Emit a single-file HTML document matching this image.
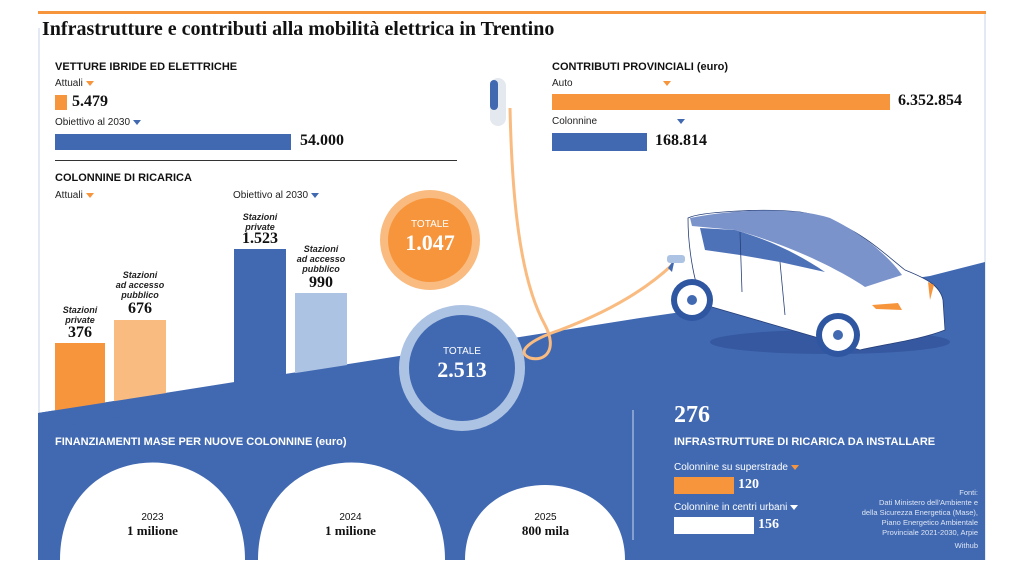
<!DOCTYPE html>
<html><head><meta charset="utf-8"><style>
body{margin:0;width:1024px;height:587px;background:#fff;overflow:hidden;position:relative;font-family:"Liberation Sans",sans-serif;}
.a{position:absolute;white-space:nowrap;}
.h{font-weight:bold;font-size:11px;color:#111;}
.s{font-size:10px;color:#222;}
.n{font-family:"Liberation Serif",serif;font-weight:bold;font-size:16px;color:#111;}
.tri{display:inline-block;width:0;height:0;border-left:4px solid transparent;border-right:4px solid transparent;margin-left:3px;vertical-align:middle}
.to{border-top:5px solid #f7953d}.tb{border-top:5px solid #4169b2}.tw{border-top:5px solid #fff}
.it{font-style:italic;font-weight:bold;font-size:9px;text-align:center;line-height:10px;color:#222}
</style></head><body>
<svg class="a" style="left:0;top:0" width="1024" height="587">
<rect x="38" y="11" width="948" height="3" fill="#f7953d"/>
<line x1="39" y1="28" x2="39" y2="560" stroke="#c9d5ea" stroke-width="1"/>
<line x1="985" y1="14" x2="985" y2="560" stroke="#c9d5ea" stroke-width="1"/>
<polygon points="38,413 640,318 930,276 985,262 985,560 38,560" fill="#4169b2"/>
<rect x="55" y="343" width="50" height="70" fill="#f7953d"/>
<rect x="114" y="320" width="52" height="84" fill="#f9bb80"/>
<rect x="234" y="249" width="52" height="135" fill="#4169b2"/>
<rect x="295" y="293" width="52" height="83" fill="#adc3e3"/>
<polygon points="38,413 360,363 360,380 38,430" fill="#4169b2"/>
<circle cx="430" cy="240" r="50" fill="#f9bb80"/><circle cx="430" cy="240" r="42" fill="#f7953d"/>
<circle cx="462" cy="368" r="63" fill="#adc3e3"/><circle cx="462" cy="368" r="53" fill="#4169b2"/>
<path d="M510,108 C512,200 520,280 545,325 C558,350 545,362 530,358 C515,352 530,340 560,330 C600,315 640,295 672,265" fill="none" stroke="#f9bb80" stroke-width="3"/>
<rect x="490" y="78" width="16" height="48" rx="8" fill="#e4e8ef"/>
<rect x="490" y="80" width="8" height="30" rx="4" fill="#4169b2"/>
<!-- car -->
<ellipse cx="830" cy="342" rx="120" ry="12" fill="#3558a0"/>
<path d="M675,258 L668,268 L672,272Z" fill="#4169b2"/>
<rect x="667" y="255" width="18" height="8" rx="3" fill="#adc3e3"/>
<path d="M688,218 C700,212 760,208 800,212 C850,220 880,250 905,270 C925,278 940,285 943,300 L945,330 C920,340 880,345 860,350 L705,305 C695,290 688,250 688,218Z" fill="#fff" stroke="#27407a" stroke-width="0.8"/>
<path d="M690,218 C740,208 800,208 830,218 C865,235 890,258 902,275 L865,287 C840,270 790,245 735,230 L692,226Z" fill="#7b93cb"/>
<path d="M700,228 L735,230 C770,240 800,255 825,272 L780,262 L740,255 L705,250Z" fill="#4e72b8"/>
<path d="M740,232 L742,292 M780,262 L785,315" stroke="#27407a" stroke-width="0.8"/>
<circle cx="692" cy="300" r="21" fill="#2f56a0"/><circle cx="692" cy="300" r="15" fill="#fff"/><circle cx="692" cy="300" r="5" fill="#4169b2"/>
<circle cx="838" cy="335" r="22" fill="#2f56a0"/><circle cx="838" cy="335" r="16" fill="#fff"/><circle cx="838" cy="335" r="5" fill="#4169b2"/>
<path d="M872,305 L898,303 L902,310 L876,309Z" fill="#f7953d"/>
<path d="M928,282 L934,285 L930,300Z" fill="#f7953d"/>
<path d="M60,560 C60,430 245,430 245,560Z" fill="#fff"/>
<path d="M258,560 C258,430 445,430 445,560Z" fill="#fff"/>
<path d="M465,560 C465,460 625,460 625,560Z" fill="#fff"/>
<line x1="633" y1="410" x2="633" y2="540" stroke="#c9d5ea" stroke-width="1"/>
<rect x="674" y="477" width="60" height="17" fill="#f7953d"/>
<rect x="674" y="517" width="80" height="17" fill="#fff"/>
</svg>
<div class="a" style="left:42px;top:18px;font-family:'Liberation Serif',serif;font-weight:bold;font-size:20px;color:#111">Infrastrutture e contributi alla mobilità elettrica in Trentino</div>
<div class="a h" style="left:55px;top:61px">VETTURE IBRIDE ED ELETTRICHE</div>
<div class="a s" style="left:55px;top:78px">Attuali<span class="tri to"></span></div>
<div class="a" style="left:55px;top:95px;width:12px;height:15px;background:#f7953d"></div>
<div class="a n" style="left:72px;top:93px">5.479</div>
<div class="a s" style="left:55px;top:117px">Obiettivo al 2030<span class="tri tb"></span></div>
<div class="a" style="left:55px;top:134px;width:236px;height:16px;background:#4169b2"></div>
<div class="a n" style="left:300px;top:132px">54.000</div>
<div class="a" style="left:55px;top:160px;width:402px;height:1px;background:#333"></div>
<div class="a h" style="left:55px;top:172px">COLONNINE DI RICARICA</div>
<div class="a s" style="left:55px;top:190px">Attuali<span class="tri to"></span></div>
<div class="a s" style="left:233px;top:190px">Obiettivo al 2030<span class="tri tb"></span></div>
<div class="a it" style="left:50px;top:305px;width:60px">Stazioni<br>private</div>
<div class="a n" style="left:50px;top:324px;width:60px;text-align:center">376</div>
<div class="a it" style="left:105px;top:270px;width:70px">Stazioni<br>ad accesso<br>pubblico</div>
<div class="a n" style="left:105px;top:300px;width:70px;text-align:center">676</div>
<div class="a it" style="left:230px;top:212px;width:60px">Stazioni<br>private</div>
<div class="a n" style="left:225px;top:230px;width:70px;text-align:center">1.523</div>
<div class="a it" style="left:286px;top:244px;width:70px">Stazioni<br>ad accesso<br>pubblico</div>
<div class="a n" style="left:286px;top:274px;width:70px;text-align:center">990</div>
<div class="a" style="left:390px;top:219px;width:80px;text-align:center;color:#fff;font-size:10px">TOTALE</div>
<div class="a n" style="left:390px;top:230px;width:80px;text-align:center;color:#fff;font-size:22px">1.047</div>
<div class="a" style="left:422px;top:346px;width:80px;text-align:center;color:#fff;font-size:10px">TOTALE</div>
<div class="a n" style="left:422px;top:357px;width:80px;text-align:center;color:#fff;font-size:22px">2.513</div>
<div class="a h" style="left:552px;top:61px">CONTRIBUTI PROVINCIALI (euro)</div>
<div class="a s" style="left:552px;top:78px">Auto<span class="tri to" style="margin-left:90px"></span></div>
<div class="a" style="left:552px;top:94px;width:338px;height:16px;background:#f7953d"></div>
<div class="a n" style="left:898px;top:92px">6.352.854</div>
<div class="a s" style="left:552px;top:116px">Colonnine<span class="tri tb" style="margin-left:80px"></span></div>
<div class="a" style="left:552px;top:133px;width:95px;height:18px;background:#4169b2"></div>
<div class="a n" style="left:655px;top:132px">168.814</div>
<div class="a h" style="left:55px;top:436px;color:#fff">FINANZIAMENTI MASE PER NUOVE COLONNINE (euro)</div>
<div class="a" style="left:100px;top:512px;width:105px;text-align:center;font-size:10px;color:#111">2023</div>
<div class="a n" style="left:100px;top:523px;width:105px;text-align:center;font-size:13px">1 milione</div>
<div class="a" style="left:298px;top:512px;width:105px;text-align:center;font-size:10px;color:#111">2024</div>
<div class="a n" style="left:298px;top:523px;width:105px;text-align:center;font-size:13px">1 milione</div>
<div class="a" style="left:493px;top:512px;width:105px;text-align:center;font-size:10px;color:#111">2025</div>
<div class="a n" style="left:493px;top:523px;width:105px;text-align:center;font-size:13px">800 mila</div>
<div class="a n" style="left:674px;top:402px;color:#fff;font-size:24px">276</div>
<div class="a h" style="left:674px;top:436px;color:#fff">INFRASTRUTTURE DI RICARICA DA INSTALLARE</div>
<div class="a s" style="left:674px;top:462px;color:#fff">Colonnine su superstrade<span class="tri to"></span></div>
<div class="a n" style="left:738px;top:477px;color:#fff;font-size:14px">120</div>
<div class="a s" style="left:674px;top:502px;color:#fff">Colonnine in centri urbani<span class="tri tw"></span></div>
<div class="a n" style="left:758px;top:517px;color:#fff;font-size:14px">156</div>
<div class="a" style="left:820px;top:488px;width:158px;text-align:right;color:#dde5f3;font-size:7.5px;line-height:10px">Fonti:<br>Dati Ministero dell'Ambiente e<br>della Sicurezza Energetica (Mase),<br>Piano Energetico Ambientale<br>Provinciale 2021-2030, Arpie<br><span style="line-height:16px">Withub</span></div>
</body></html>
